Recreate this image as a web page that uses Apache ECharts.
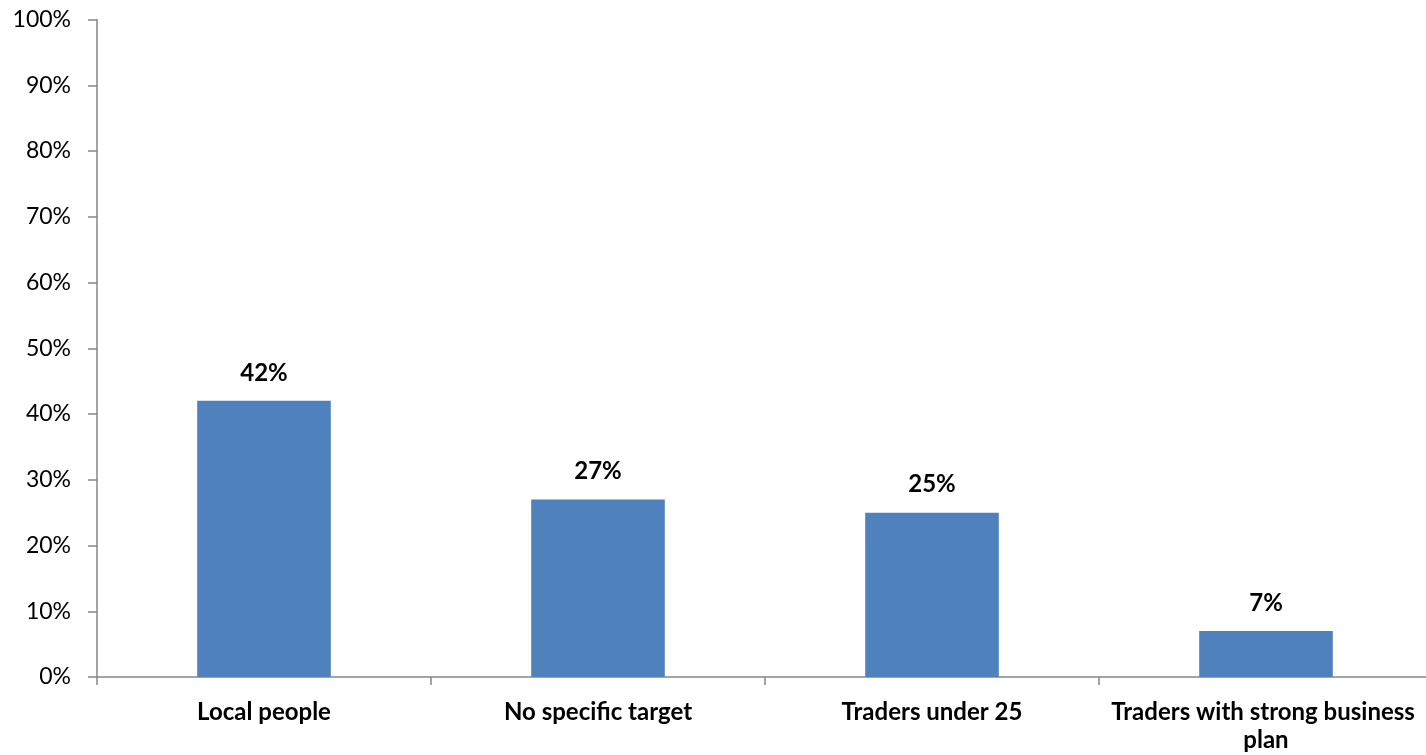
<!DOCTYPE html>
<html>
<head>
<meta charset="utf-8">
<script src="https://cdn.jsdelivr.net/npm/echarts@6/dist/echarts.min.js"></script>
<style>
  html, body { margin: 0; padding: 0; background: #ffffff; overflow: hidden; }
  /* the plot area runs a few pixels past the right edge of the window */
  #chart { width: 1433px; height: 755px; }
</style>
</head>
<body>
<div id="chart"></div>
<script>
// Share of respondents by target group (%)
const categories = ['Local people', 'No specific target', 'Traders under 25', 'Traders with strong business plan'];
const values = [42, 27, 25, 7];
const yTicks = [0, 10, 20, 30, 40, 50, 60, 70, 80, 90, 100];

const FONT = 'Lato, "Open Sans", sans-serif';
const AXIS_GREY = '#868686';

const chart = echarts.init(document.getElementById('chart'), null, { renderer: 'canvas' });

chart.setOption({
  animation: false,
  backgroundColor: '#ffffff',
  grid: { left: 97, right: 0, top: 19.5, bottom: 78, containLabel: false },
  xAxis: {
    type: 'category',
    data: categories,
    axisLine: { show: true, lineStyle: { color: AXIS_GREY, width: 1.5 } },
    axisTick: { show: true, alignWithLabel: false, length: 8, lineStyle: { color: AXIS_GREY, width: 1.5 } },
    axisLabel: {
      color: '#000000',
      fontFamily: FONT,
      fontWeight: 'bold',
      fontSize: 24,
      lineHeight: 28,
      margin: 21,
      interval: 0,
      width: 325,
      overflow: 'break'
    },
    splitLine: { show: false }
  },
  yAxis: {
    type: 'value',
    min: yTicks[0],
    max: yTicks[yTicks.length - 1],
    interval: 10,
    axisLine: { show: true, lineStyle: { color: AXIS_GREY, width: 1.5 } },
    axisTick: { show: true, length: 9, lineStyle: { color: AXIS_GREY, width: 1.5 } },
    axisLabel: {
      color: '#000000',
      fontFamily: FONT,
      fontSize: 23,
      margin: 26,
      formatter: v => v + '%'
    },
    splitLine: { show: false }
  },
  series: [{
    type: 'bar',
    data: values,
    barWidth: '40%',
    itemStyle: { color: '#4F81BD' },
    label: {
      show: true,
      position: 'top',
      distance: 16,
      color: '#000000',
      fontFamily: FONT,
      fontWeight: 'bold',
      fontSize: 24,
      formatter: p => p.value + '%'
    }
  }]
});
</script>
</body>
</html>
